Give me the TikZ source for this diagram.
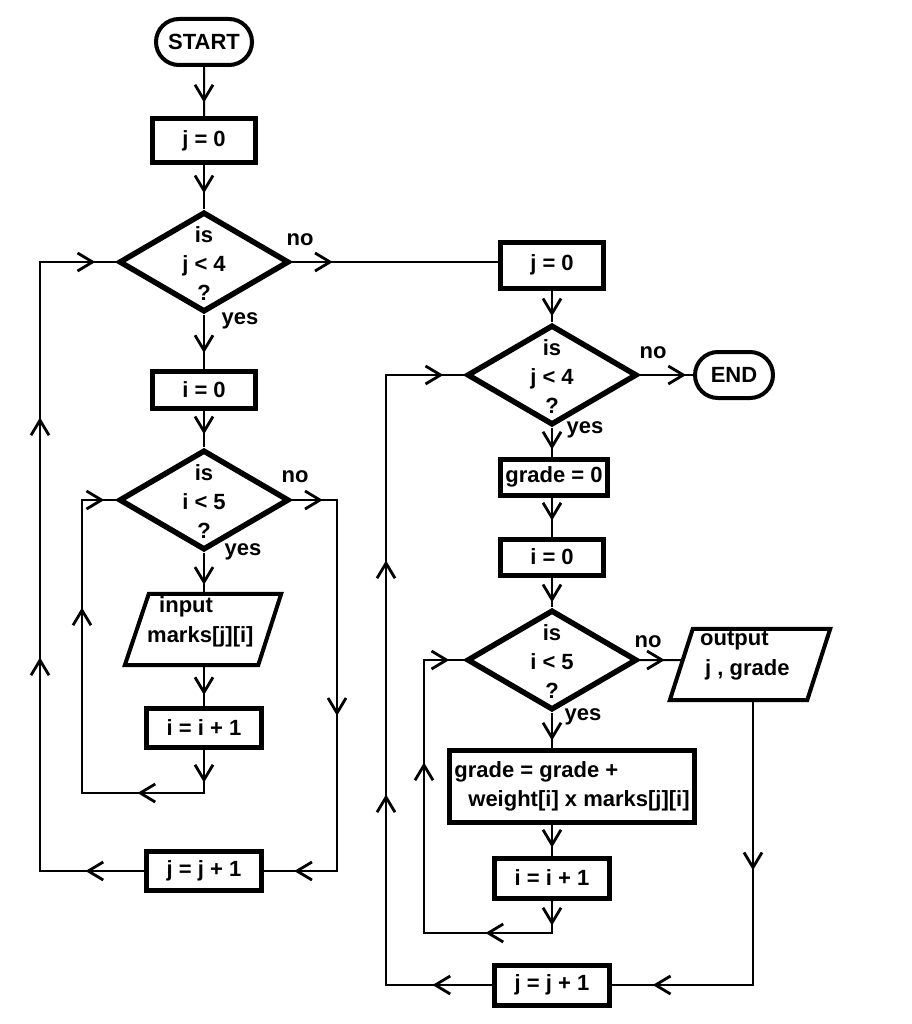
\documentclass[tikz,border=0pt]{standalone}
\usepackage{fontspec}
\setmainfont{Liberation Sans}
\usetikzlibrary{arrows.meta,decorations.markings,shapes.geometric,shapes.misc,calc}
\begin{document}
\begin{tikzpicture}[x=1pt,y=-1pt,
  every node/.style={font=\fontsize{22}{29}\selectfont\bfseries, inner sep=0pt},
  procbox/.style={draw, line width=5pt, rectangle},
  termbox/.style={draw, line width=4pt, rounded rectangle},
  decbox/.style={draw, line width=5.5pt, diamond, minimum width=170pt, minimum height=100pt},
  iobox/.style={rectangle, minimum width=156pt, minimum height=71pt},
  conn/.style={line width=2pt},
  ar/.style={postaction={decorate,decoration={markings,mark=at position #1 with {\arrow{Straight Barb[length=15pt,width=18pt,line width=2.8pt]}}}}},
  lbl/.style={anchor=center}
]
\fill[white] (0,0) rectangle (911,1024);
\useasboundingbox (0,0) rectangle (911,1024);

% ---------- left column ----------
\node[termbox, minimum width=96pt, minimum height=46pt] (start) at (204,42) {START};
\node[procbox, minimum width=103pt, minimum height=44pt] (j0a) at (204,141) {j = 0};
\node[decbox] (d1) at (204,262) {};
\node[align=center] (d1t) at (204,264) {is\\j < 4\\?};
\node[procbox, minimum width=103pt, minimum height=37pt] (i0a) at (204,390) {i = 0};
\node[decbox] (d2) at (204,500) {};
\node[align=center] (d2t) at (204,502) {is\\i < 5\\?};
\node[iobox] (inp) at (203,629.5) {};
\draw[line width=4pt] ($(inp.north west)+(24,0)$) -- (inp.north east) -- ($(inp.south east)+(-23,0)$) -- (inp.south west) -- cycle;
\node[anchor=base west] (inpt1) at (159,612) {input};
\node[anchor=base west] (inpt2) at (147,642) {marks[j][i]};
\node[procbox, minimum width=115pt, minimum height=39pt] (i1a) at (204,728) {i = i + 1};
\node[procbox, minimum width=115pt, minimum height=39pt] (j1a) at (204,871) {j = j + 1};

\node[lbl] (no1) at (300,240) {no};
\node[lbl] (yes1) at (240,321) {yes};
\node[lbl] (no2) at (295,477) {no};
\node[lbl] (yes2) at (243,552) {yes};

% ---------- right column ----------
\node[procbox, minimum width=103pt, minimum height=46pt] (j0b) at (552,265) {j = 0};
\node[decbox] (d3) at (552,375) {};
\node[align=center] (d3t) at (552,377) {is\\j < 4\\?};
\node[termbox, minimum width=78pt, minimum height=46pt] (endn) at (734,375) {END};
\node[procbox, minimum width=107pt, minimum height=36pt] (g0) at (554,477) {grade = 0};
\node[procbox, minimum width=103pt, minimum height=36pt] (i0b) at (552,557) {i = 0};
\node[decbox] (d4) at (552,660) {};
\node[align=center] (d4t) at (552,662) {is\\i < 5\\?};
\node[iobox, minimum width=160pt] (outp) at (750,664.5) {};
\coordinate (op1) at ($(outp.north west)+(23,0)$);
\coordinate (op2) at (outp.north east);
\coordinate (op3) at ($(outp.south east)+(-23,0)$);
\coordinate (op4) at (outp.south west);
\draw[line width=4pt] (op1) -- (op2) -- (op3) -- (op4) -- cycle;
\coordinate (opin) at ($(op4)!0.563!(op1)$);
\coordinate (opout) at ($(outp.south)+(3,0)$);
\node[anchor=base west] (outt1) at (700,645) {output};
\node[anchor=base west] (outt2) at (705,675) {j , grade};
\node[procbox, minimum width=245pt, minimum height=72pt, align=left] (gb) at (572,786) {grade = grade +\\\hspace*{14pt}weight[i] x marks[j][i]};
\node[procbox, minimum width=115pt, minimum height=40pt] (i1b) at (552,878) {i = i + 1};
\node[procbox, minimum width=115pt, minimum height=40pt] (j1b) at (552,985) {j = j + 1};

\node[lbl] (no3) at (653,353) {no};
\node[lbl] (yes3) at (585,430) {yes};
\node[lbl] (no4) at (648,642) {no};
\node[lbl] (yes4) at (583,717) {yes};

% ---------- corner coordinates ----------
\coordinate (c7a) at (204,793);
\coordinate (c7b) at (82,793);
\coordinate (c7c) at (82,500);
\coordinate (c8a) at (337,500);
\coordinate (c8b) at (337,871);
\coordinate (c9a) at (40,871);
\coordinate (c9b) at (40,262);
\coordinate (c19a) at (552,933);
\coordinate (c19b) at (424,933);
\coordinate (c19c) at (424,660);
\coordinate (c20a) at (753,985);
\coordinate (c21a) at (386,985);
\coordinate (c21b) at (386,375);

% ---------- connectors left ----------
\draw[conn, ar=-14pt] (start) -- (j0a);
\draw[conn, ar=-16pt] (j0a) -- (d1);
\draw[conn, ar=-16pt] (d1) -- (i0a);
\draw[conn, ar=-13pt] (i0a) -- (d2);
\draw[conn, ar=-9pt] (d2.south) -- (d2.south |- inp.north);
\draw[conn, ar=-11pt] (i1a.north |- inp.south) -- (i1a.north);
\draw[conn, ar=32.5pt, ar=109.5pt, ar=350.5pt, ar=-12pt] (i1a.south) -- (c7a) -- (c7b) -- (c7c) -- (d2.west);
\draw[conn, ar=31pt, ar=261pt, ar=459pt] (d2.east) -- (c8a) -- (c8b) -- (j1a.east);
\draw[conn, ar=58.5pt, ar=317.5pt, ar=557.5pt, ar=-21pt] (j1a.west) -- (c9a) -- (c9b) -- (d1.west);
\draw[conn, ar=41pt] (d1.east) -- (d1.east -| j0b.west);

% ---------- connectors right ----------
\draw[conn, ar=-6pt] (j0b) -- (d3);
\draw[conn, ar=-7pt] (d3) -- (endn);
\draw[conn, ar=-7pt] (d3.south) -- (d3.south |- g0.north);
\draw[conn, ar=-16pt] (i0b.north |- g0.south) -- (i0b.north);
\draw[conn, ar=-5pt] (i0b) -- (d4);
\draw[conn, ar=-18pt] (d4.east) -- (opin);
\draw[conn, ar=-7pt] (d4.south) -- (d4.south |- gb.north);
\draw[conn, ar=-8pt] (i1b.north |- gb.south) -- (i1b.north);
\draw[conn, ar=25pt, ar=99pt, ar=331pt, ar=-15pt] (i1b.south) -- (c19a) -- (c19b) -- (c19c) -- (d4.west);
\draw[conn, ar=170pt, ar=385pt] (opout) -- (c20a) -- (j1b.east);
\draw[conn, ar=59.5pt, ar=296.5pt, ar=530.5pt, ar=-21pt] (j1b.west) -- (c21a) -- (c21b) -- (d3.west);
\end{tikzpicture}
\end{document}
